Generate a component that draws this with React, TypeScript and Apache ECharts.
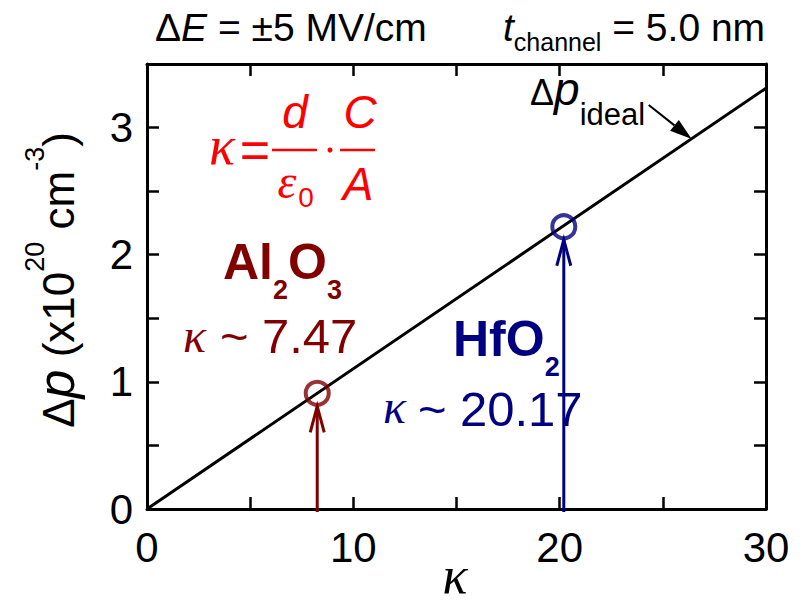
import React, { useEffect, useRef } from "react";
import * as echarts from "echarts";

// ---------- data ----------
const X_MIN = 0;
const X_MAX = 30;
const X_STEP = 5;
const Y_MIN = 0;
const Y_MAX = 3.5;
const Y_STEP = 0.5;
const xLabelValues = [0, 10, 20, 30];
const yLabelValues = [0, 1, 2, 3];
const idealKappa = [0, 30];
const idealDeltaP = [0, 3.31];
const materialKappa = [8.25, 20.2];
const materialDeltaP = [0.91, 2.22];
const materialKappaText = ["7.47", "20.17"];
const materialColors = ["#800000", "#000080"];
const idealArrowTip = [26.4, 2.91];

const SANS = "'Liberation Sans', Arial, sans-serif";
const SERIF = "'Liberation Serif', 'Times New Roman', serif";

type Part = { t: string; fs: number; fam?: string; it?: boolean; b?: boolean; dy?: number; gap?: number };

let mctx: CanvasRenderingContext2D | null = null;
function fontStr(p: Part) {
  return `${p.it ? "italic " : ""}${p.b ? "bold " : ""}${p.fs}px ${p.fam || SANS}`;
}
function measure(p: Part) {
  if (!mctx) mctx = document.createElement("canvas").getContext("2d");
  mctx!.font = fontStr(p);
  return mctx!.measureText(p.t).width;
}
function central(fam?: string) {
  return fam === SERIF ? 0.3375 : 0.3465;
}
function txt(x: number, base: number, p: Part, color: string, align = "left") {
  return {
    type: "text",
    x,
    y: base + (p.dy || 0) - central(p.fam) * p.fs,
    silent: true,
    style: {
      text: p.t,
      fill: color,
      fontSize: p.fs,
      fontFamily: p.fam || SANS,
      fontStyle: p.it ? "italic" : "normal",
      fontWeight: p.b ? "bold" : "normal",
      align,
      textAlign: align,
      verticalAlign: "middle",
      textVerticalAlign: "middle",
    },
  };
}
function seqWidth(parts: Part[]) {
  return parts.reduce((s, p) => s + (p.gap || 0) + measure(p), 0);
}
function seq(x0: number, base: number, parts: Part[], color: string) {
  let x = x0;
  const els: any[] = [];
  for (const p of parts) {
    x += p.gap || 0;
    els.push(txt(x, base, p, color));
    x += measure(p);
  }
  return els;
}

function buildGraphics() {
  const g: any[] = [];
  // top annotations
  g.push(
    ...seq(155, 41, [
      { t: "Δ", fs: 39 },
      { t: "E", fs: 39, it: true },
      { t: " = ±5 MV/cm", fs: 39 },
    ], "#000")
  );
  g.push(
    ...seq(503, 41, [
      { t: "t", fs: 39, it: true },
      { t: "channel", fs: 25, dy: 10 },
      { t: " = 5.0 nm", fs: 39 },
    ], "#000")
  );
  // y-axis title (rotated)
  const yParts: Part[] = [
    { t: "Δ", fs: 44 },
    { t: "p", fs: 52, it: true },
    { t: " (x10", fs: 44 },
    { t: "20", fs: 27, dy: -30 },
    { t: " cm", fs: 44 },
    { t: "-3", fs: 27, dy: -30 },
    { t: ")", fs: 44 },
  ];
  const yLen = seqWidth(yParts);
  g.push({
    type: "group",
    x: 74,
    y: 280 + yLen / 2,
    rotation: Math.PI / 2,
    children: seq(0, 0, yParts, "#000"),
  });
  // x-axis title
  g.push(txt(455, 593, { t: "κ", fs: 52, fam: SERIF, it: true }, "#000", "center"));

  // formula
  const red = "#ff0000";
  g.push(txt(222, 164, { t: "κ", fs: 54, fam: SERIF, it: true }, red, "center"));
  g.push(txt(255, 168, { t: "=", fs: 52 }, red, "center"));
  g.push(txt(295, 128, { t: "d", fs: 46, it: true }, red, "center"));
  g.push(txt(360, 128, { t: "C", fs: 46, it: true }, red, "center"));
  g.push(txt(287, 198, { t: "ε", fs: 48, fam: SERIF, it: true }, red, "center"));
  g.push(txt(306, 207, { t: "0", fs: 28 }, red, "center"));
  g.push(txt(358, 200, { t: "A", fs: 46, it: true }, red, "center"));
  g.push({ type: "line", silent: true, shape: { x1: 272, y1: 150, x2: 317, y2: 150 }, style: { stroke: red, lineWidth: 2.5 } });
  g.push({ type: "line", silent: true, shape: { x1: 340, y1: 150, x2: 375, y2: 150 }, style: { stroke: red, lineWidth: 2.5 } });
  g.push({ type: "circle", silent: true, shape: { cx: 330, cy: 150, r: 2.5 }, style: { fill: red } });

  // Al2O3
  const c0 = materialColors[0];
  g.push(
    ...seq(223, 279, [
      { t: "Al", fs: 50, b: true },
      { t: "2", fs: 27, b: true, dy: 20 },
      { t: "O", fs: 50, b: true },
      { t: "3", fs: 27, b: true, dy: 20 },
    ], c0)
  );
  g.push(txt(183, 352, { t: "κ", fs: 48, fam: SERIF, it: true }, c0));
  g.push(txt(220, 353, { t: "~", fs: 49 }, c0));
  g.push(txt(262, 353, { t: materialKappaText[0], fs: 49 }, c0));

  // HfO2
  const c1 = materialColors[1];
  g.push(
    ...seq(453, 356, [
      { t: "HfO", fs: 50, b: true },
      { t: "2", fs: 27, b: true, dy: 20 },
    ], c1)
  );
  g.push(txt(383, 423, { t: "κ", fs: 48, fam: SERIF, it: true }, c1));
  g.push(txt(418, 426, { t: "~", fs: 49 }, c1));
  g.push(txt(460, 426, { t: materialKappaText[1], fs: 49 }, c1));

  // Δp ideal label
  g.push(
    ...seq(530, 105, [
      { t: "Δ", fs: 36 },
      { t: "p", fs: 46, it: true },
      { t: "ideal", fs: 31, dy: 20 },
    ], "#000")
  );
  return g;
}

function buildOption(): any {
  const axisCommon = {
    type: "value",
    axisLine: { show: true, onZero: false, lineStyle: { color: "#000", width: 3 } },
    axisTick: { show: true, inside: true, length: 12, lineStyle: { color: "#000", width: 2.5 } },
    splitLine: { show: false },
    minorTick: { show: false },
  };
  const labelStyle = { fontSize: 42, fontFamily: SANS, color: "#000" };
  return {
    animation: false,
    backgroundColor: "#fff",
    grid: { left: 147, right: 39, top: 64, bottom: 94, containLabel: false },
    xAxis: [
      {
        ...axisCommon,
        position: "bottom",
        min: X_MIN,
        max: X_MAX,
        interval: X_STEP,
        axisLabel: {
          ...labelStyle,
          margin: 17,
          formatter: (v: number) => (xLabelValues.includes(v) ? String(v) : ""),
        },
      },
      {
        ...axisCommon,
        position: "top",
        min: X_MIN,
        max: X_MAX,
        interval: X_STEP,
        axisLabel: { show: false },
      },
    ],
    yAxis: [
      {
        ...axisCommon,
        position: "left",
        min: Y_MIN,
        max: Y_MAX,
        interval: Y_STEP,
        axisLabel: {
          ...labelStyle,
          margin: 14,
          formatter: (v: number) => (yLabelValues.includes(v) ? String(v) : ""),
        },
      },
      {
        ...axisCommon,
        position: "right",
        min: Y_MIN,
        max: Y_MAX,
        interval: Y_STEP,
        axisLabel: { show: false },
      },
    ],
    series: [
      {
        type: "line",
        xAxisIndex: 0,
        yAxisIndex: 0,
        data: idealKappa.map((k, i) => [k, idealDeltaP[i]]),
        symbol: "none",
        lineStyle: { color: "#000", width: 3 },
        silent: true,
        z: 2,
      },
      {
        type: "custom",
        xAxisIndex: 0,
        yAxisIndex: 0,
        silent: true,
        z: 3,
        data: materialKappa.map((k, i) => [k, materialDeltaP[i], i]),
        renderItem: (_p: any, api: any) => {
          const x = api.value(0);
          const y = api.value(1);
          const i = api.value(2);
          const col = materialColors[i];
          const base = api.coord([x, 0]);
          const c = api.coord([x, y]);
          const tipY = c[1] + 13;
          return {
            type: "group",
            children: [
              { type: "line", shape: { x1: c[0], y1: base[1] + 3, x2: c[0], y2: tipY }, style: { stroke: col, lineWidth: 3 } },
              {
                type: "polyline",
                shape: { points: [[c[0] - 7, tipY + 26], [c[0], tipY], [c[0] + 7, tipY + 26]] },
                style: { stroke: col, lineWidth: 3, fill: null },
              },
            ],
          };
        },
      },
      {
        type: "scatter",
        xAxisIndex: 0,
        yAxisIndex: 0,
        silent: true,
        z: 4,
        symbol: "circle",
        symbolSize: 23,
        data: materialKappa.map((k, i) => ({
          value: [k, materialDeltaP[i]],
          itemStyle: { color: "rgba(0,0,0,0)", borderColor: materialColors[i], borderWidth: 4 },
        })),
      },
      {
        type: "custom",
        xAxisIndex: 0,
        yAxisIndex: 0,
        silent: true,
        z: 3,
        data: [idealArrowTip],
        renderItem: (_p: any, api: any) => {
          const tip = api.coord([api.value(0), api.value(1)]);
          const tail = [tip[0] - 43, tip[1] - 34];
          const dx = tip[0] - tail[0];
          const dy = tip[1] - tail[1];
          const len = Math.sqrt(dx * dx + dy * dy);
          const ux = dx / len;
          const uy = dy / len;
          const hl = 22;
          const hw = 7;
          const bx = tip[0] - hl * ux;
          const by = tip[1] - hl * uy;
          return {
            type: "group",
            children: [
              { type: "line", shape: { x1: tail[0], y1: tail[1], x2: bx, y2: by }, style: { stroke: "#000", lineWidth: 2 } },
              {
                type: "polygon",
                shape: { points: [[tip[0], tip[1]], [bx - hw * uy, by + hw * ux], [bx + hw * uy, by - hw * ux]] },
                style: { fill: "#000" },
              },
            ],
          };
        },
      },
    ],
    graphic: buildGraphics(),
  };
}

export default function App() {
  const ref = useRef<HTMLDivElement>(null);
  useEffect(() => {
    document.body.style.margin = "0";
    const chart = echarts.init(ref.current!, null, { renderer: "svg" });
    chart.setOption(buildOption());
    return () => chart.dispose();
  }, []);
  return <div ref={ref} style={{ width: 805, height: 603 }} />;
}
